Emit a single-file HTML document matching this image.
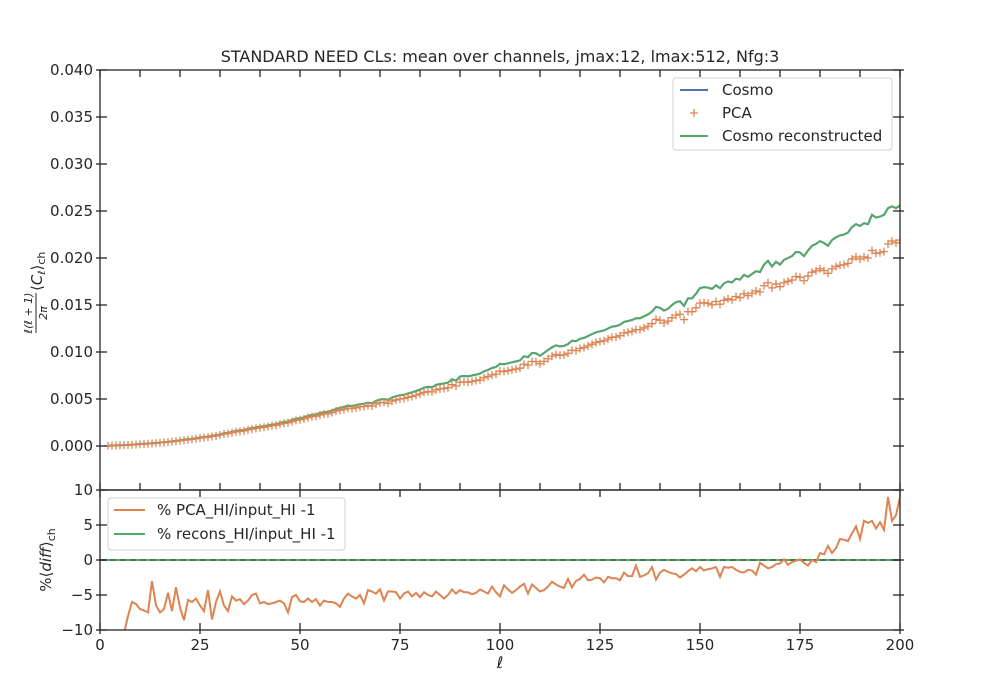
<!DOCTYPE html>
<html><head><meta charset="utf-8"><style>
body{margin:0;background:#fff}
svg{display:block;font-family:"DejaVu Sans","Liberation Sans",sans-serif}
</style></head><body>
<svg id="c" width="1000" height="700" xmlns="http://www.w3.org/2000/svg"></svg>
<script>
// Cosmo Cl values (x1e-3) for ell = 2..200
const cosmo = [0.02,0.04,0.06,0.08,0.10,0.12,0.14,0.17,0.20,
0.23,0.26,0.29,0.32,0.36,0.40,0.44,0.49,0.54,0.60,
0.66,0.71,0.76,0.82,0.90,0.95,1.00,1.08,1.14,1.25,
1.35,1.40,1.50,1.60,1.65,1.70,1.82,1.90,1.98,2.05,
2.10,2.20,2.28,2.32,2.45,2.55,2.60,2.75,2.90,2.95,
3.05,3.20,3.30,3.35,3.50,3.60,3.62,3.78,3.95,4.05,
4.15,4.30,4.25,4.35,4.45,4.50,4.60,4.55,4.80,4.95,
5.00,4.90,5.15,5.30,5.40,5.45,5.60,5.70,5.85,6.00,
6.20,6.30,6.25,6.50,6.60,6.65,6.75,7.10,6.95,7.40,
7.45,7.40,7.50,7.60,7.70,7.95,8.10,8.30,8.40,8.75,
8.70,8.80,8.90,9.00,9.10,9.55,9.45,9.90,9.85,9.60,
9.90,10.20,10.50,10.70,10.60,10.65,10.85,11.20,11.15,11.40,
11.50,11.70,11.90,12.10,12.20,12.30,12.50,12.70,12.75,12.90,
13.20,13.30,13.40,13.60,13.60,13.80,14.00,14.30,14.80,14.70,
14.40,14.60,15.00,15.30,15.40,14.90,15.70,15.70,16.20,16.80,
16.90,16.85,16.70,17.10,16.80,17.30,17.50,17.40,17.80,17.70,
18.20,18.00,18.30,18.60,18.50,19.30,19.70,19.10,19.60,19.30,
19.80,20.00,20.20,20.65,20.60,20.20,20.80,21.30,21.50,21.80,
21.60,21.30,21.90,22.20,22.40,22.50,22.70,23.30,23.60,23.40,
23.70,23.60,24.60,24.30,24.40,24.60,25.30,25.50,25.30,25.60];
// PCA Cl values (x1e-3) for ell = 2..200
const pca = [0.02,0.04,0.05,0.07,0.09,0.11,0.13,0.16,0.18,
0.21,0.24,0.27,0.30,0.33,0.37,0.41,0.46,0.50,0.56,
0.61,0.66,0.71,0.77,0.84,0.89,0.94,1.01,1.07,1.17,
1.27,1.32,1.42,1.51,1.56,1.61,1.72,1.80,1.87,1.94,
1.99,2.08,2.16,2.20,2.32,2.41,2.47,2.60,2.73,2.79,
2.88,3.02,3.11,3.17,3.30,3.40,3.42,3.56,3.72,3.80,
3.89,4.02,3.98,4.06,4.16,4.20,4.29,4.25,4.47,4.60,
4.64,4.55,4.78,4.91,5.00,5.05,5.18,5.27,5.40,5.54,
5.71,5.80,5.76,5.98,6.07,6.11,6.20,6.52,6.38,6.78,
6.82,6.78,6.86,6.95,7.03,7.26,7.39,7.57,7.65,7.96,
7.92,8.01,8.10,8.19,8.28,8.70,8.60,9.00,8.96,8.75,
9.00,9.28,9.56,9.74,9.65,9.69,9.87,10.19,10.15,10.37,
10.47,10.65,10.83,11.01,11.10,11.19,11.38,11.56,11.60,11.74,
12.01,12.10,12.20,12.38,12.38,12.56,12.74,13.01,13.47,13.38,
13.10,13.29,13.65,13.92,14.01,13.45,14.29,14.29,14.70,15.20,
15.25,15.19,15.02,15.37,15.08,15.50,15.66,15.55,15.90,15.78,
16.20,16.00,16.25,16.50,16.38,17.05,17.37,16.82,17.24,16.95,
17.37,17.52,17.66,18.03,17.96,17.58,18.08,18.49,18.63,18.85,
18.66,18.38,18.86,19.09,19.23,19.28,19.43,19.90,20.12,19.90,
20.12,20.00,20.80,20.51,20.56,20.68,21.50,21.80,21.60,21.90];
// % PCA_HI/input_HI -1, ell = 2..200
const diffPCA = [-14,-13,-12,-11,-10.5,-8,-6,-6.3,-7,
-7.2,-7.5,-3,-6.5,-7.5,-7,-4.7,-7.3,-3.9,-6.8,
-8.6,-5.7,-6,-5.5,-6.5,-7.3,-4.3,-8.5,-6,-4.5,
-6.5,-7.3,-5.2,-5.8,-5.6,-6.3,-5.8,-5,-4.8,-6.2,
-6,-6.3,-6.2,-6,-5.8,-6.2,-7.5,-5.3,-5,-5.9,
-6,-5.5,-6,-5.6,-6.5,-5.8,-6,-6,-6.2,-6.7,
-5.5,-4.8,-5.2,-5.5,-5,-6.2,-4.3,-4.5,-4.8,-4.2,
-5.8,-4.5,-4.5,-4.6,-5.5,-4.8,-4.5,-5.2,-4.7,-5.3,
-4.6,-5,-5.2,-4.5,-5,-5.5,-5,-4.2,-4.8,-4.3,
-4.6,-4.6,-4.9,-4.7,-4.2,-4.5,-4.8,-3.8,-4.6,-5.2,
-3.6,-4.2,-4.7,-4.3,-3.8,-3.4,-4.8,-3.5,-4.0,-4.5,
-4.3,-3.8,-3.1,-3.5,-3.8,-4.0,-2.7,-3.9,-3.0,-2.7,
-2.1,-2.9,-2.8,-2.5,-2.6,-3.2,-2.4,-2.6,-2.6,-2.9,
-1.8,-2.3,-2.3,-0.8,-2.4,-2.2,-1.9,-1.0,-2.8,-1.8,
-1.4,-1.7,-1.9,-2.0,-2.5,-2.1,-1.6,-1.2,-1.6,-1.0,
-1.5,-1.3,-1.2,-1.0,-2.4,-1.0,-1.1,-1.0,-1.4,-1.7,
-1.8,-1.4,-1.5,-2.1,-0.4,-0.8,-1.2,-1.0,-0.6,-0.5,
0.1,-0.7,-0.3,-0.1,0.1,-0.4,-0.8,0.0,-0.3,1.0,
0.8,2.0,1.0,1.7,3.0,2.9,2.7,3.8,4.8,3.0,
5.6,5.3,5.6,4.5,5.4,4.3,9.0,5.6,6.4,9.0];
const ellStart = 2;
const topTicks = ["0.000","0.005","0.010","0.015","0.020","0.025","0.030","0.035","0.040"];
const botTicks = ["−10","−5","0","5","10"];
const xTicks = ["0","25","50","75","100","125","150","175","200"];

const NS="http://www.w3.org/2000/svg", svg=document.getElementById('c');
const X0=100,X1=900;
const sx=l=>X0+(l/200)*(X1-X0);
const syT=v=>446-(v/0.005)*47;
const syB=v=>560-v*7;
function el(t,a,p){const e=document.createElementNS(NS,t);for(const k in a)e.setAttribute(k,a[k]);(p||svg).appendChild(e);return e;}
function txt(s,a,p){const e=el('text',a,p);e.textContent=s;return e;}
function tsp(s,a,p){const e=el('tspan',a,p);e.textContent=s;return e;}
const C='#262626';

const defs=el('defs',{});
const cp1=el('clipPath',{id:'ct'},defs);el('rect',{x:100,y:70,width:800,height:420},cp1);
const cp2=el('clipPath',{id:'cb'},defs);el('rect',{x:100,y:490,width:800,height:140},cp2);

txt('STANDARD NEED CLs: mean over channels, jmax:12, lmax:512, Nfg:3',{x:500,y:62,'text-anchor':'middle','font-size':16,fill:C,});

const gT=el('g',{'clip-path':'url(#ct)'});
let dC='';
cosmo.forEach((v,i)=>{const l=ellStart+i;const y=syT(v/1000);dC+=(i?'L':'M')+sx(l).toFixed(1)+','+y.toFixed(1);});
const cosmoLine=el('path',{d:dC,fill:'none',stroke:'#4c72b0','stroke-width':2},gT);

const recon=el('path',{d:dC,fill:'none',stroke:'#55a868','stroke-width':2},gT);

const pcaG=el('g',{stroke:'#dd8452','stroke-width':1.3},gT);

pca.forEach((v,i)=>{const l=ellStart+i;const x=sx(l),y=syT(v/1000);
 const m=el('path',{d:`M${x-4},${y}H${x+4}M${x},${y-4}V${y+4}`},pcaG);
 });

const gB=el('g',{'clip-path':'url(#cb)'});
el('line',{x1:100,x2:900,y1:syB(0),y2:syB(0),stroke:'#55a868','stroke-width':2,},gB);
el('line',{x1:100,x2:900,y1:syB(0),y2:syB(0),stroke:'#2f6b3a','stroke-width':2,'stroke-dasharray':'6,4',opacity:0.7},gB);
let dD='';diffPCA.forEach((v,i)=>{dD+=(i?'L':'M')+sx(ellStart+i).toFixed(1)+','+syB(v).toFixed(1);});
const pd=el('path',{d:dD,fill:'none',stroke:'#dd8452','stroke-width':2},gB);


el('rect',{x:100,y:70,width:800,height:420,fill:'none',stroke:C,'stroke-width':1.3,});
el('rect',{x:100,y:490,width:800,height:140,fill:'none',stroke:C,'stroke-width':1.3,});

const tk=el('g',{stroke:C,'stroke-width':1.3});
topTicks.forEach((s)=>{const y=syT(parseFloat(s));
 el('line',{x1:96,x2:107,y1:y,y2:y},tk);el('line',{x1:893,x2:904,y1:y,y2:y},tk);
 txt(s,{x:93,y:y+5,'text-anchor':'end','font-size':15,fill:C,});});
for(let l=0;l<=200;l+=10){const x=sx(l);el('line',{x1:x,x2:x,y1:70,y2:77},tk);el('line',{x1:x,x2:x,y1:483,y2:490},tk);}
botTicks.forEach(s=>{const v=parseFloat(s.replace('−','-'));const y=syB(v);
 el('line',{x1:96,x2:107,y1:y,y2:y},tk);el('line',{x1:893,x2:904,y1:y,y2:y},tk);
 txt(s,{x:93,y:y+5,'text-anchor':'end','font-size':15,fill:C,});});
xTicks.forEach(s=>{const x=sx(+s);el('line',{x1:x,x2:x,y1:490,y2:497},tk);el('line',{x1:x,x2:x,y1:623,y2:634},tk);
 txt(s,{x:x,y:650,'text-anchor':'middle','font-size':15,fill:C,});});

txt('ℓ',{x:500,y:668,'text-anchor':'middle','font-size':16,'font-style':'italic',fill:C,});

// y labels
const yl=el('g',{transform:'translate(38,275) rotate(-90)',});
txt('ℓ(ℓ + 1)',{x:-38,y:-6,'text-anchor':'middle','font-size':11,'font-style':'italic',fill:C},yl);
el('line',{x1:-58,x2:-18,y1:-2,y2:-2,stroke:C,'stroke-width':1},yl);
txt('2π',{x:-38,y:9,'text-anchor':'middle','font-size':11,'font-style':'italic',fill:C},yl);
const t1=el('text',{x:-16,y:4,'font-size':15,fill:C},yl);
tsp('⟨',{},t1);tsp('C',{'font-style':'italic'},t1);tsp('ℓ',{'font-size':10,'font-style':'italic',dy:3},t1);tsp('⟩',{dy:-3},t1);tsp('ch',{'font-size':11,dy:3},t1);
const yl2=el('g',{transform:'translate(51,560) rotate(-90)',});
const t2=el('text',{x:0,y:0,'text-anchor':'middle','font-size':15,fill:C},yl2);
tsp('%⟨',{},t2);tsp('diff',{'font-style':'italic'},t2);tsp('⟩',{},t2);tsp('ch',{'font-size':11,dy:4},t2);

const lg=el('g',{});
el('rect',{x:673,y:78,width:219,height:72,rx:3,fill:'#fff',stroke:'#d0d0d0','stroke-width':1},lg);
[['Cosmo','#4c72b0','line',90],['PCA','#dd8452','plus',113],['Cosmo reconstructed','#55a868','line',136]].forEach(([n,c,t,y])=>{
 const g=el('g',{},lg);
 if(t=='line')el('line',{x1:680,x2:708,y1:y,y2:y,stroke:c,'stroke-width':2},g);
 else el('path',{d:`M690,${y}H698M694,${y-4}V${y+4}`,stroke:c,'stroke-width':1.3},g);
 txt(n,{x:722,y:y+5,'font-size':15,fill:C},g);});
const lg2=el('g',{});
el('rect',{x:108,y:498,width:237,height:52,rx:3,fill:'#fff',stroke:'#d0d0d0','stroke-width':1},lg2);
[['% PCA_HI/input_HI -1','#dd8452',510],['% recons_HI/input_HI -1','#55a868',534]].forEach(([n,c,y])=>{
 const g=el('g',{},lg2);
 el('line',{x1:114,x2:145,y1:y,y2:y,stroke:c,'stroke-width':2},g);
 txt(n,{x:157,y:y+5,'font-size':15,fill:C},g);});
</script>
</body></html>
